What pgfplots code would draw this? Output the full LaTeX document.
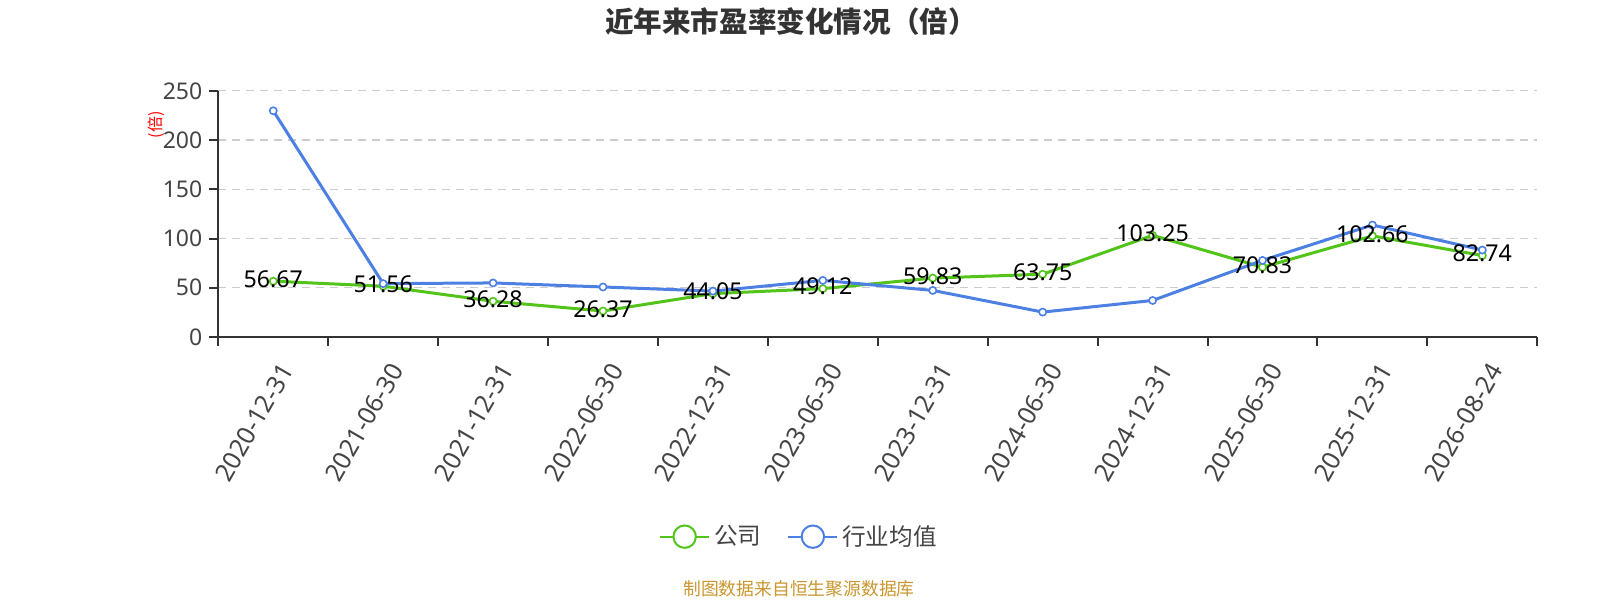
\documentclass[border=0pt]{standalone}
\usepackage{pgfplots}
\pgfplotsset{compat=1.18}
\usepackage{pgfplotstable}
\usepackage{fontspec}
\setmainfont{Noto Sans}
\newfontfamily\cjk{Noto Sans CJK SC}
\definecolor{cgreen}{RGB}{82,196,26}
\definecolor{cblue}{RGB}{76,128,226}
\definecolor{axgray}{RGB}{51,51,51}
\definecolor{tickgray}{RGB}{68,68,68}
\definecolor{gridgray}{RGB}{204,204,204}
\definecolor{gold}{RGB}{201,150,47}

\pgfplotstableread{
x y label
0 56.67 56.67
1 51.56 51.56
2 36.28 36.28
3 26.37 26.37
4 44.05 44.05
5 49.12 49.12
6 59.83 59.83
7 63.75 63.75
8 103.25 103.25
9 70.83 70.83
10 102.66 102.66
11 82.74 82.74
}\company

\pgfplotstableread{
x y
0 229.7
1 54.2
2 54.9
3 50.8
4 46.6
5 57.5
6 47.3
7 25.3
8 37.1
9 77.8
10 113.7
11 88.3
}\industry

\begin{document}
\begin{tikzpicture}
\path[use as bounding box] (0,0) rectangle (800pt,300pt);
\begin{axis}[
  at={(109.15pt,131.5pt)}, anchor=south west,
  scale only axis, width=659.5pt, height=123.1pt,
  xmin=-0.5, xmax=11.5, ymin=0, ymax=250,
  axis x line*=bottom, axis y line*=left,
  axis line style={draw=axgray, line width=1pt},
  xtick={0,...,11},
  xticklabels={2020-12-31,2021-06-30,2021-12-31,2022-06-30,2022-12-31,2023-06-30,2023-12-31,2024-06-30,2024-12-31,2025-06-30,2025-12-31,2026-08-24},
  minor xtick={-0.5,0.5,...,11.5},
  ytick={0,50,...,250},
  tick align=outside,
  major tick length=4.5pt, minor tick length=4.5pt,
  tick style={draw=axgray, line width=1pt},
  major x tick style={draw=none},
  ymajorgrids,
  grid style={draw=gridgray, dash pattern=on 4pt off 3pt, line width=0.6pt},
  tick label style={text=tickgray},
  yticklabel style={font=\fontsize{11.5}{13}\selectfont},
  xticklabel style={font=\fontsize{12.5}{14}\selectfont, inner sep=0pt, xshift=6.8pt, yshift=-9.8pt, rotate=60, anchor=east},
  /pgf/number format/assume math mode=true,
  legend columns=2,
  legend style={at={(0.441,-0.811)}, anchor=center, draw=none, fill=none,
    font=\cjk\fontsize{11.8}{13}\selectfont, text=tickgray,
    /tikz/every even column/.append style={column sep=11pt}},
  legend image code/.code={
    \draw[#1, mark=none, line width=1pt] (0pt,0pt) -- (24.5pt,0pt);
    \draw[#1, mark=none, line width=1pt, fill=white] (12.25pt,0pt) circle (5.6pt);},
]
\addplot[cgreen, line width=1.5pt, mark=*, mark size=1.8pt, mark options={fill=white, line width=0.8pt}] table[x=x,y=y]{\company};
\addlegendentry{公司}
\addplot[cblue, line width=1.5pt, mark=*, mark size=1.8pt, mark options={fill=white, line width=0.8pt}] table[x=x,y=y]{\industry};
\addlegendentry{行业均值}
\addplot[forget plot, draw=none, mark=none, nodes near coords, point meta=explicit symbolic,
  nodes near coords style={anchor=center, font=\fontsize{11.6}{13}\selectfont, text=black, yshift=1pt}]
  table[x=x,y=y,meta=label]{\company};
\end{axis}
\node[font=\cjk\bfseries\fontsize{14.3}{16}\selectfont, text=axgray] at (395.5pt,289pt) {近年来市盈率变化情况（倍）};
\node[rotate=90, text=red, font=\cjk\fontsize{8}{9}\selectfont] at (78.3pt,237.5pt) {(倍)};
\node[font=\cjk\fontsize{8.9}{10}\selectfont, text=gold] at (399.5pt,5.5pt) {制图数据来自恒生聚源数据库};
\end{tikzpicture}
\end{document}
